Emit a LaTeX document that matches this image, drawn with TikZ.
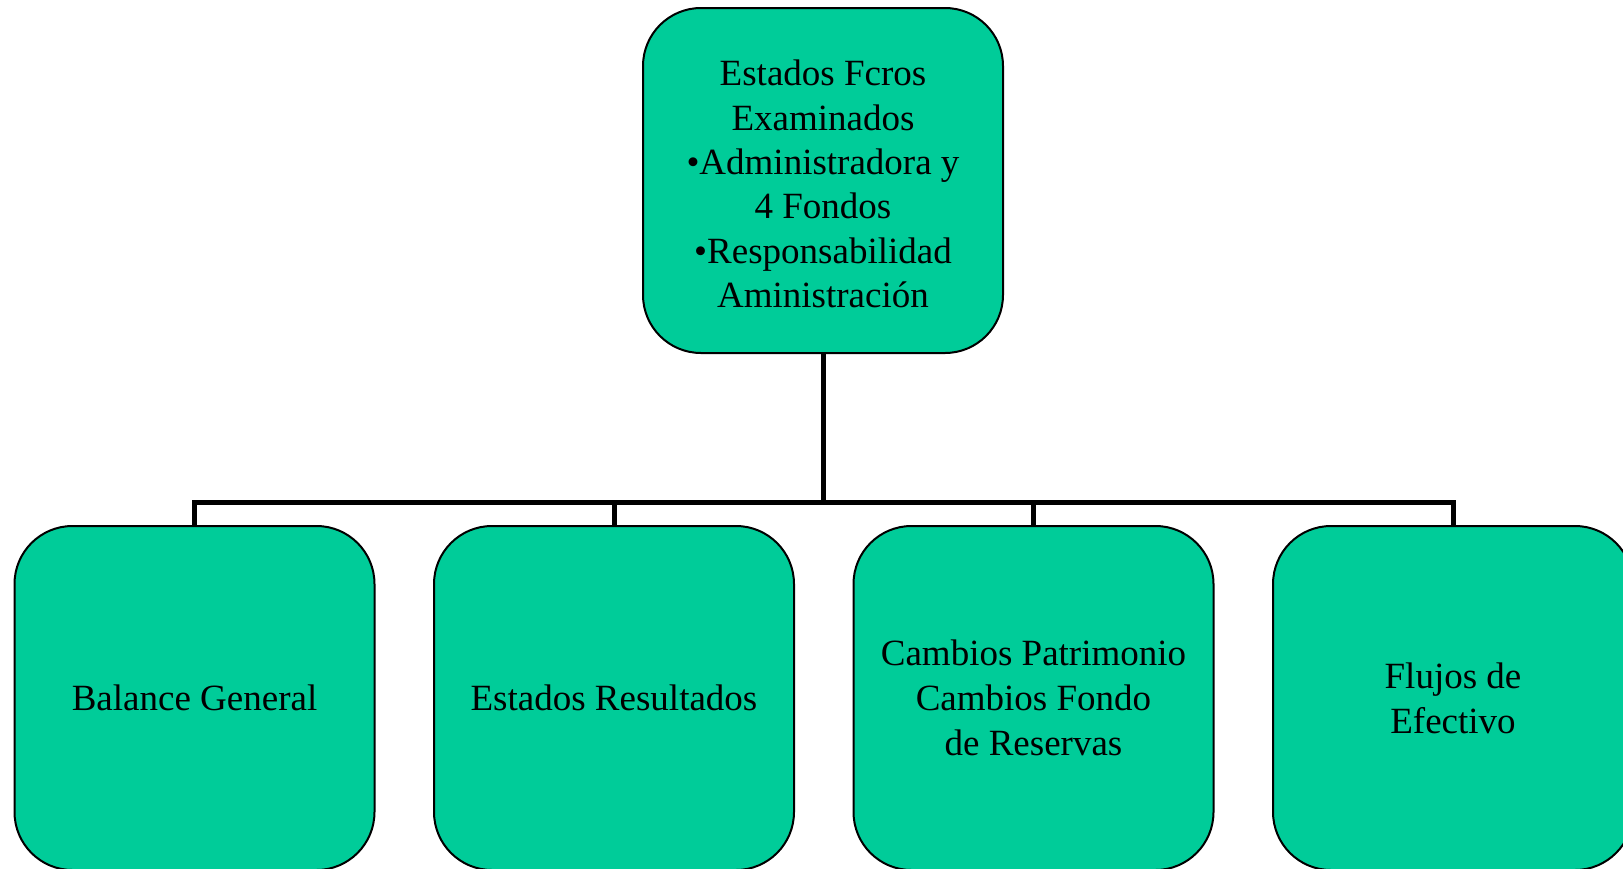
\documentclass[tikz,border=0pt]{standalone}
\usepackage{fontspec}
\setmainfont{Liberation Serif}
\definecolor{boxgreen}{RGB}{0,204,153}
\begin{document}
\begin{tikzpicture}[x=1pt,y=-1pt,
  box/.style={draw=black, line width=2pt, fill=boxgreen, rounded corners=58pt,
    minimum width=360pt, align=center, font=\fontsize{37}{45}\selectfont, inner sep=0pt},
  conn/.style={line width=5pt, draw=black}]
\useasboundingbox (0,0) rectangle (1623,868);
\clip (0,0) rectangle (1623,868);
\fill[white] (0,0) rectangle (1623,868);
\node[box, minimum height=345pt] (top) at (823,180.5) {};
\node[align=center, font=\fontsize{37}{44.3}\selectfont, inner sep=0pt] (toptext) at (823,184)
  {Estados Fcros\\Examinados\\•Administradora y\\4 Fondos\\•Responsabilidad\\Aministración};
\node[box, minimum height=344pt] (b1) at (194.5,698) {Balance General};
\node[box, minimum height=344pt] (b2) at (614,698) {Estados Resultados};
\node[box, minimum height=344pt] (b3) at (1033.5,698) {Cambios Patrimonio\\Cambios Fondo\\de Reservas};
\node[box, minimum height=344pt] (b4) at (1453,698) {Flujos de\\Efectivo};
\coordinate (j) at (823,502);
\draw[conn] (top.south) -- (j);
\draw[conn] (b1.north) -- (b1.north |- j) -- (b4.north |- j) -- (b4.north);
\draw[conn] (b2.north) -- (b2.north |- j);
\draw[conn] (b3.north) -- (b3.north |- j);
\end{tikzpicture}
\end{document}
